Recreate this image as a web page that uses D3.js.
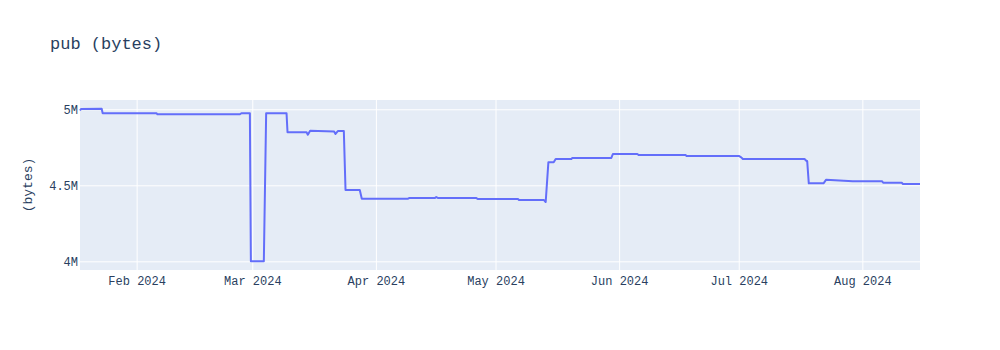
<!DOCTYPE html>
<html lang="en">
  <head>
    <meta charset="utf-8">
    <title>pub (bytes)</title>
    <script type="text/javascript" src="https://cdn.jsdelivr.net/npm/d3@7"></script>
    <style>
      body { margin: 0; background: white; }
    </style>
  </head>

  <body>
    <script>
      // timestamps of each sample
      var times = [
        '2024-01-17 19:00', '2024-01-18 01:00', '2024-01-23 05:30', '2024-01-23 11:30',
        '2024-02-06 00:15', '2024-02-06 05:00', '2024-02-26 21:30', '2024-02-27 06:30',
        '2024-02-29 09:30', '2024-02-29 15:30', '2024-03-03 21:30', '2024-03-04 11:30',
        '2024-03-09 14:10', '2024-03-09 20:00', '2024-03-14 14:40', '2024-03-14 22:20',
        '2024-03-15 12:10', '2024-03-21 12:30', '2024-03-21 21:00', '2024-03-22 10:50',
        '2024-03-23 23:00', '2024-03-24 09:10', '2024-03-27 23:00', '2024-03-28 11:10',
        '2024-04-09 01:40', '2024-04-09 07:40', '2024-04-15 18:10', '2024-04-16 03:20',
        '2024-04-16 15:20', '2024-04-26 05:00', '2024-04-26 13:00', '2024-05-06 15:20',
        '2024-05-06 21:20', '2024-05-13 03:50', '2024-05-13 14:00', '2024-05-14 06:10',
        '2024-05-15 14:10', '2024-05-16 02:10', '2024-05-20 00:30', '2024-05-20 06:30',
        '2024-05-30 01:10', '2024-05-30 10:50', '2024-06-05 13:30', '2024-06-05 21:20',
        '2024-06-17 16:00', '2024-06-17 22:00', '2024-07-01 00:40', '2024-07-01 15:10',
        '2024-07-02 00:40', '2024-07-17 12:00', '2024-07-18 00:00', '2024-07-18 04:00',
        '2024-07-18 13:40', '2024-07-22 06:10', '2024-07-22 22:20', '2024-07-29 14:20',
        '2024-08-05 23:20', '2024-08-06 05:20', '2024-08-10 21:10', '2024-08-11 04:20',
        '2024-08-15 11:00'
      ]

      // size of pub in bytes at each sample
      var bytes = [
        4992000, 5002000, 5004000, 4974000,
        4974000, 4967000, 4967000, 4974000,
        4974000, 4000000, 4000000, 4974000,
        4974000, 4849000, 4849000, 4833000,
        4859000, 4854000, 4838000, 4857000,
        4857000, 4469000, 4469000, 4412000,
        4412000, 4416000, 4416000, 4423000,
        4416000, 4416000, 4410000, 4410000,
        4403000, 4403000, 4390000, 4651000,
        4651000, 4673000, 4673000, 4680000,
        4680000, 4706000, 4706000, 4699000,
        4699000, 4693000, 4693000, 4684000,
        4673000, 4673000, 4660000, 4660000,
        4513000, 4513000, 4537000, 4526000,
        4526000, 4517000, 4517000, 4509000,
        4509000
      ]

      var yTicks = [4000000, 4500000, 5000000]
      var yTickLabels = ['4M', '4.5M', '5M']
      var xTickMonths = ['2024-02-01', '2024-03-01', '2024-04-01', '2024-05-01',
                         '2024-06-01', '2024-07-01', '2024-08-01']

      var width = 1000, height = 350
      var margin = {top: 100, right: 80, bottom: 80, left: 80}
      var font = '"Liberation Mono", "Courier New", monospace'
      var textColor = '#2a3f5f'

      var parseTime = d3.timeParse('%Y-%m-%d %H:%M')
      var parseDay = d3.timeParse('%Y-%m-%d')
      var data = times.map(function(t, i) { return {date: parseTime(t), value: bytes[i]} })

      var svg = d3.select('body').append('svg').attr('width', width).attr('height', height)

      var x = d3.scaleTime()
        .domain(d3.extent(data, function(d) { return d.date }))
        .range([margin.left, width - margin.right])

      // plotly-style padded range around 4M..5M
      var y = d3.scaleLinear()
        .domain([3943000, 5061000])
        .range([height - margin.bottom, margin.top])

      // plot background
      svg.append('rect')
        .attr('x', margin.left).attr('y', margin.top)
        .attr('width', width - margin.left - margin.right)
        .attr('height', height - margin.top - margin.bottom)
        .attr('fill', '#e5ecf6')

      // x axis with grid lines
      var xAxis = d3.axisBottom(x)
        .tickValues(xTickMonths.map(parseDay))
        .tickFormat(d3.timeFormat('%b %Y'))
        .tickSize(-(height - margin.top - margin.bottom))
        .tickPadding(6)
      var gx = svg.append('g')
        .attr('transform', 'translate(0,' + (height - margin.bottom) + ')')
        .call(xAxis)
      gx.select('.domain').remove()
      gx.selectAll('line').attr('stroke', 'white').attr('stroke-width', 1)
      gx.selectAll('text').attr('font-family', font).attr('font-size', 12).attr('fill', textColor)

      // y axis with grid lines
      var yAxis = d3.axisLeft(y)
        .tickValues(yTicks)
        .tickFormat(function(d, i) { return yTickLabels[i] })
        .tickSize(-(width - margin.left - margin.right))
        .tickPadding(2)
      var gy = svg.append('g')
        .attr('transform', 'translate(' + margin.left + ',0)')
        .call(yAxis)
      gy.select('.domain').remove()
      gy.selectAll('line').attr('stroke', 'white').attr('stroke-width', 1)
      gy.selectAll('text').attr('font-family', font).attr('font-size', 12).attr('fill', textColor)

      // the series
      var line = d3.line()
        .x(function(d) { return x(d.date) })
        .y(function(d) { return y(d.value) })

      svg.append('path')
        .datum(data)
        .attr('d', line)
        .attr('fill', 'none')
        .attr('stroke', '#636efa')
        .attr('stroke-width', 2)
        .attr('stroke-linejoin', 'round')

      // titles
      svg.append('text')
        .attr('x', 50).attr('y', 49)
        .attr('font-family', font).attr('font-size', 17)
        .attr('fill', textColor)
        .text('pub (bytes)')

      svg.append('text')
        .attr('transform', 'translate(32,' + (margin.top + (height - margin.top - margin.bottom) / 2) + ') rotate(-90)')
        .attr('text-anchor', 'middle')
        .attr('font-family', font).attr('font-size', 13)
        .attr('fill', textColor)
        .text('(bytes)')
    </script>
  </body>
</html>
